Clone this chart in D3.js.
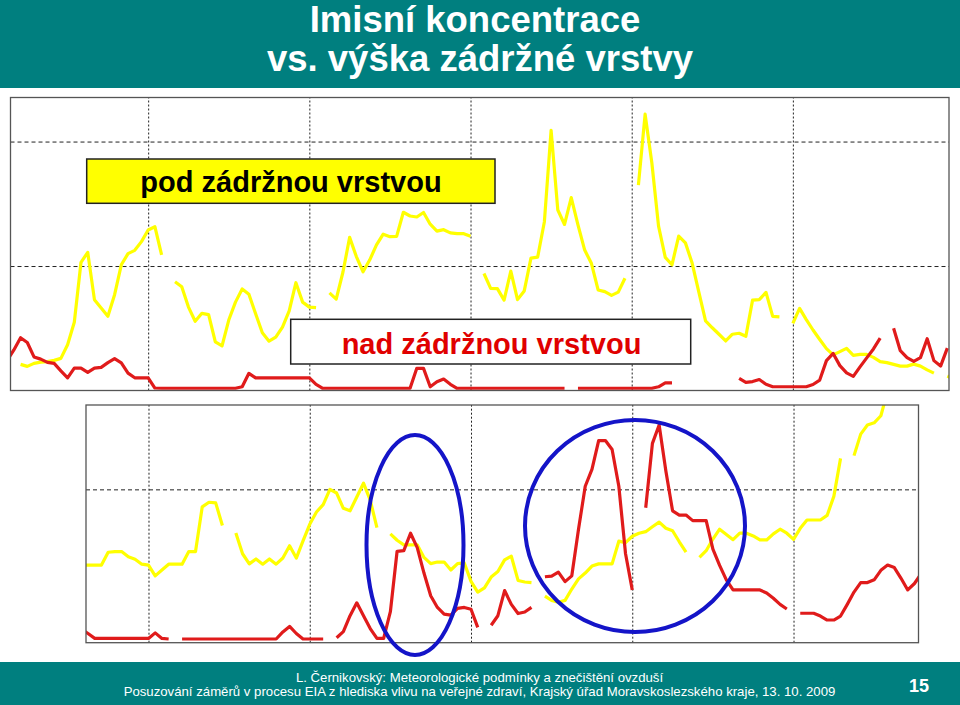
<!DOCTYPE html>
<html>
<head>
    <meta charset="utf-8"/>
    <style>
        body { margin: 0; background: #fff; }
        svg { display: block; font-family: "Liberation Sans", Arial, sans-serif; }
    </style>
</head>
<body>
<div id="slide"></div>
<script src="https://cdn.jsdelivr.net/npm/d3@7"></script>
<script type="text/javascript">

    // hourly concentrations, first value belongs to the hour in *Start
    var dayHours = [24, 48, 72, 96, 120];

    var topStartRed = 3;
    var topRed = [12, 16.3, 21.2, 19.3, 13.5, 12.6, 11.3, 10.9, 7.9, 5.1,
        9.0, 9.0, 7.3, 9.0, 9.3, 11.2, 12.8, 11.1, 7.0, 5.1,
        5.1, 5.1, 1.0, 0.9, 0.9, 0.9, 0.9, 0.9, 0.9, 0.9,
        0.9, 0.9, 0.9, 0.9, 0.9, 1.5, 6.9, 5.1, 5.1, 5.1,
        5.1, 5.1, 5.1, 5.1, 5.1, 5.1, 2.5, 0.9, 0.9, 0.9,
        0.9, 0.9, 0.9, 0.9, 0.9, 0.9, 0.9, 0.9, 0.9, 0.9,
        0.9, 8.9, 8.9, 1.5, 3.5, 4.6, 2.5, 0.9, 0.9, 0.9,
        0.9, 0.9, 0.9, 0.9, 0.9, 0.9, 0.9, 0.9, 0.9, 0.9,
        0.9, 0.9, 0.9, 0.9, null, 0.9, 0.9, 0.9, 0.9, 0.9,
        0.9, 0.9, 0.9, 0.9, 0.9, 0.9, 0.9, 1.5, 3.1, 3.1,
        null, null, null, null, null, null, null, null, null, 4.9,
        3.3, 3.6, 4.4, 2.5, 1.5, 1.5, 1.5, 1.5, 1.5, 1.5,
        2.4, 4.2, 12.0, 14.9, 10.0, 7.1, 5.7, 9.5, 13.1, 16.7,
        21.0, null, 25.0, 16.0, 13.2, 11.7, 13.2, 20.8, 12.0, 9.8,
        17.0];

    var topStartYellow = 5;
    var topYellow = [10.5, 9.7, 10.9, 11.4, 11.6, 12.1, 12.9, 18.4, 27.4, 51.5,
        55.5, 36.5, 33.1, 29.8, 38.5, 50.5, 55.0, 56.3, 59.8, 64.5,
        65.8, 54.5, null, 43.7, 41.7, 33.5, 27.8, 31.0, 30.5, 19.5,
        17.9, 28.3, 35.5, 40.8, 38.7, 30.8, 23.2, 19.8, 21.4, 25.5,
        32.0, 43.3, 35.5, 33.5, 33.3, null, 39.2, 36.7, 47.5, 61.5,
        53.8, 47.7, 52.5, 58.5, 62.8, 61.8, 61.9, 71.6, 70.1, 69.7,
        71.5, 66.8, 64.0, 64.6, 63.3, 63.0, 63.0, 62.0, null, 47.0,
        41.0, 40.9, 36.3, 48.0, 36.5, 40.0, 53.2, 53.6, 67.8, 104.5,
        72.5, 66.7, 77.5, 66.5, 56.4, 51.1, 40.4, 39.7, 38.2, 39.5,
        45.1, null, 82.5, 111.0, 91.5, 66.0, 53.5, 50.5, 62.0, 59.3,
        51.2, 39.5, 28.0, 25.2, 22.6, 19.9, 22.6, 23.0, 21.8, 36.3,
        36.5, 39.4, 29.8, 29.6, null, 27.0, 33.0, 28.5, 24.3, 20.5,
        16.8, 14.3, 15.6, 16.9, 14.1, 14.5, 14.5, 13.3, 11.6, 11.2,
        10.5, 9.8, 9.8, 10.6, 9.8, 8.3, 7.0, null, 5.8, 4.5];

    var botStartYellow = 14;
    var botYellow = [25.3, 25.3, 25.3, 25.3, 29.5, 29.7, 29.7, 28.0, 27.2, 25.6,
        25.3, 21.8, 23.7, 25.6, 25.6, 25.6, 29.7, 29.7, 44.3, 45.8,
        45.6, 38.2, null, 35.8, 29.0, 25.7, 27.3, 25.6, 27.3, 25.6,
        27.6, 31.6, 27.6, 33.2, 38.6, 42.6, 45.0, 50.0, 48.8, 43.8,
        43.0, 47.5, 52.0, 46.5, 37.5, null, 35.5, 33.4, 31.9, 31.9,
        31.9, 27.8, 25.8, 26.3, 26.3, 23.7, 25.8, 26.0, 20.0, 16.5,
        17.9, 21.4, 23.2, 27.0, 28.2, 20.3, 19.8, 19.6, null, 15.2,
        13.8, 13.2, 13.8, 17.5, 20.8, 22.7, 25.0, 25.7, 25.7, 25.7,
        33.1, 32.6, 34.7, 35.7, 36.2, 37.8, 39.3, 37.3, 36.5, 32.9,
        29.5, null, 27.8, 30.0, 33.8, 37.0, 35.3, 33.6, 35.7, 35.7,
        34.8, 33.5, 33.5, 35.5, 37.0, 35.7, 33.7, 37.3, 40.0, 40.0,
        40.0, 41.5, 47.7, 60.1, null, 61.0, 68.0, 71.0, 71.7, 74.0,
        82.0];

    var botStartRed = 14;
    var botRed = [4.5, 3.0, 1.4, 1.4, 1.4, 1.4, 1.4, 1.4, 1.4, 1.4,
        1.4, 3.2, 1.4, 1.2, null, 1.2, 1.2, 1.2, 1.2, 1.2,
        1.2, 1.2, 1.2, 1.2, 1.2, 1.2, 1.2, 1.2, 1.2, 1.2,
        3.5, 5.3, 3.0, 1.2, 1.2, 1.2, 1.2, null, 1.6, 3.6,
        8.8, 13.0, 8.8, 4.6, 1.4, 1.4, 10.1, 29.8, 30.0, 35.7,
        31.0, 22.7, 15.3, 11.5, 9.3, 9.0, 11.2, 11.5, 10.9, 5.0,
        null, 5.7, 8.8, 17.0, 12.5, 9.5, 10.0, 11.5, null, 21.5,
        21.7, 23.0, 19.9, 21.8, 37.0, 51.0, 56.5, 65.9, 65.9, 63.0,
        51.0, 29.0, 17.2, null, 44.0, 65.0, 71.0, 56.0, 43.0, 41.6,
        41.6, 39.8, 39.8, 39.8, 30.5, 25.2, 20.5, 17.2, 17.2, 17.2,
        17.2, 17.2, 16.2, 14.5, 12.5, 11.0, null, 9.6, 9.6, 9.6,
        8.7, 7.4, 7.4, 8.7, 12.5, 16.5, 19.6, 19.6, 20.5, 23.6,
        25.3, 24.5, 21.0, 17.2, 19.3, 22.5];

    var yTicksTop = [50, 100];
    var yTicksBot = [50];

    var titleLines = ["Imisní koncentrace", "vs. výška zádržné vrstvy"];
    var footerLines = ["L. Černikovský: Meteorologické podmínky a znečištění ovzduší",
        "Posuzování záměrů v procesu EIA z hlediska vlivu na veřejné zdraví, Krajský úřad Moravskoslezského kraje, 13. 10. 2009"];
    var pageNumber = "15";

    var w = 960;
    var h = 705;
    var teal = "#007f7f";
    var yellow = "#ffff00";
    var red = "#e01b1b";
    var blue = "#1414c8";

    function toPoints(start, values) {
        return values.map(function (v, i) {
            return {h: start + i, v: v};
        });
    }

    var svg = d3.select("#slide")
        .append("svg")
        .attr("width", w)
        .attr("height", h);

    // title band
    svg.append("rect").attr("x", 0).attr("y", 0).attr("width", w).attr("height", 88).attr("fill", teal);
    svg.selectAll("text.title")
        .data(titleLines)
        .enter()
        .append("text")
        .attr("class", "title")
        .attr("x", function (d, i) { return i === 0 ? 475 : 480; })
        .attr("y", function (d, i) { return 32 + i * 38.5; })
        .attr("text-anchor", "middle")
        .attr("fill", "#fff")
        .attr("font-size", 36.5)
        .attr("font-weight", "bold")
        .text(function (d) { return d; });

    function drawChart(id, box, xDomain, yDomain, yTicks, series) {
        var xScale = d3.scaleLinear().domain(xDomain).range([box.x0, box.x1]);
        var yScale = d3.scaleLinear().domain(yDomain).range([box.y1, box.y0]);

        svg.append("clipPath")
            .attr("id", id)
            .append("rect")
            .attr("x", box.x0)
            .attr("y", box.y0)
            .attr("width", box.x1 - box.x0)
            .attr("height", box.y1 - box.y0);

        var g = svg.append("g");

        g.append("rect")
            .attr("x", box.x0)
            .attr("y", box.y0)
            .attr("width", box.x1 - box.x0)
            .attr("height", box.y1 - box.y0)
            .attr("fill", "#fff");

        // dashed grid
        var xGrid = d3.axisBottom(xScale)
            .tickValues(dayHours.filter(function (d) { return d > xDomain[0] && d < xDomain[1]; }))
            .tickSize(-(box.y1 - box.y0))
            .tickFormat("");
        g.append("g")
            .attr("transform", "translate(0," + box.y1 + ")")
            .call(xGrid)
            .call(function (s) {
                s.select(".domain").remove();
                s.selectAll("line").attr("stroke", "#222").attr("stroke-dasharray", "2,2");
            });

        var yGrid = d3.axisLeft(yScale)
            .tickValues(yTicks)
            .tickSize(-(box.x1 - box.x0))
            .tickFormat("");
        g.append("g")
            .attr("transform", "translate(" + box.x0 + ",0)")
            .call(yGrid)
            .call(function (s) {
                s.select(".domain").remove();
                s.selectAll("line").attr("stroke", "#222").attr("stroke-dasharray", "4,3");
            });

        var line = d3.line()
            .defined(function (d) { return d.v !== null; })
            .x(function (d) { return xScale(d.h); })
            .y(function (d) { return yScale(d.v); });

        series.forEach(function (s) {
            g.append("path")
                .datum(toPoints(s.start, s.values))
                .attr("clip-path", "url(#" + id + ")")
                .attr("d", line)
                .attr("fill", "none")
                .attr("stroke", s.color)
                .attr("stroke-width", 3.2)
                .attr("stroke-linejoin", "round");
        });

        g.append("rect")
            .attr("x", box.x0)
            .attr("y", box.y0)
            .attr("width", box.x1 - box.x0)
            .attr("height", box.y1 - box.y0)
            .attr("fill", "none")
            .attr("stroke", "#555")
            .attr("stroke-width", 1.3);

        return {x: xScale, y: yScale};
    }

    drawChart("clipTop", {x0: 10.5, x1: 949, y0: 97.5, y1: 390.5}, [3.5, 143.25], [0, 117.7], yTicksTop, [
        {start: topStartYellow, values: topYellow, color: yellow},
        {start: topStartRed, values: topRed, color: red}
    ]);

    drawChart("clipBot", {x0: 86, x1: 918.5, y0: 405, y1: 642.7}, [14.7, 138.6], [0, 77.5], yTicksBot, [
        {start: botStartYellow, values: botYellow, color: yellow},
        {start: botStartRed, values: botRed, color: red}
    ]);

    // labels
    svg.append("rect").attr("x", 86.7).attr("y", 159).attr("width", 408.3).attr("height", 44.3)
        .attr("fill", yellow).attr("stroke", "#222").attr("stroke-width", 1.5);
    svg.append("text").attr("x", 291).attr("y", 192).attr("text-anchor", "middle")
        .attr("font-size", 29).attr("font-weight", "bold").attr("fill", "#000")
        .text("pod zádržnou vrstvou");

    svg.append("rect").attr("x", 290.7).attr("y", 319.3).attr("width", 400).attr("height", 44.7)
        .attr("fill", "#fff").attr("stroke", "#222").attr("stroke-width", 1.5);
    svg.append("text").attr("x", 491.5).attr("y", 353.5).attr("text-anchor", "middle")
        .attr("font-size", 29).attr("font-weight", "bold").attr("fill", "#e00000")
        .text("nad zádržnou vrstvou");

    // highlighted episodes
    svg.append("ellipse").attr("cx", 415).attr("cy", 545).attr("rx", 48.5).attr("ry", 110)
        .attr("fill", "none").attr("stroke", blue).attr("stroke-width", 4);
    svg.append("ellipse").attr("cx", 635).attr("cy", 526).attr("rx", 110).attr("ry", 106)
        .attr("fill", "none").attr("stroke", blue).attr("stroke-width", 4);

    // footer
    svg.append("rect").attr("x", 0).attr("y", 662).attr("width", w).attr("height", h - 662).attr("fill", teal);
    svg.selectAll("text.footer")
        .data(footerLines)
        .enter()
        .append("text")
        .attr("class", "footer")
        .attr("x", 479.5)
        .attr("y", function (d, i) { return 681.5 + i * 14.5; })
        .attr("text-anchor", "middle")
        .attr("fill", "#fff")
        .attr("font-size", 13.2)
        .text(function (d) { return d; });
    svg.append("text").attr("x", 919).attr("y", 692).attr("text-anchor", "middle")
        .attr("fill", "#fff").attr("font-size", 18).attr("font-weight", "bold")
        .text(pageNumber);

</script>
</body>
</html>
